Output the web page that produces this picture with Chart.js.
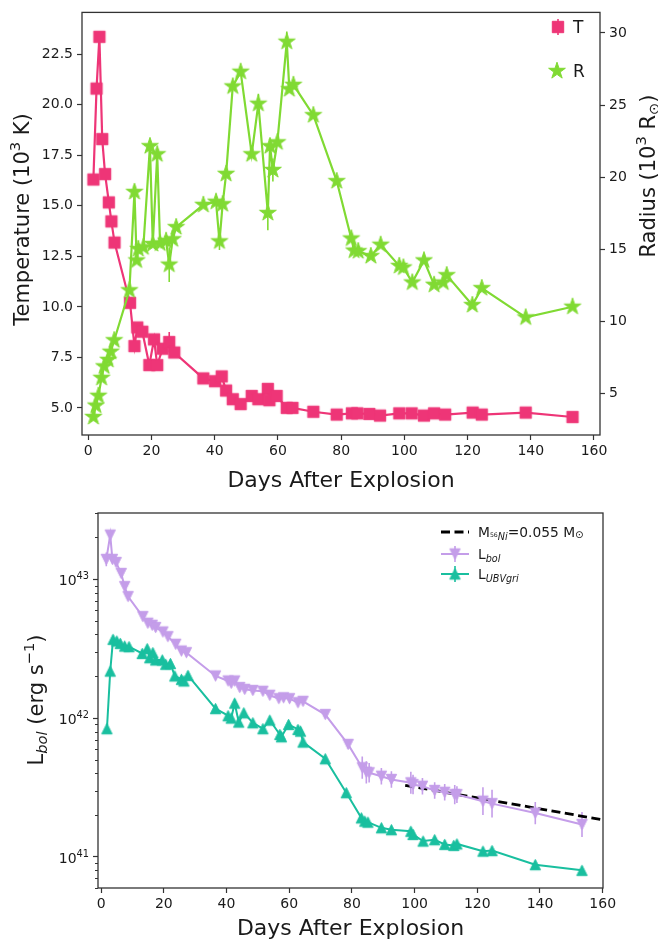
<!DOCTYPE html>
<html>
<head>
<meta charset="utf-8">
<script src="https://cdn.jsdelivr.net/npm/chart.js@4.4.1/dist/chart.umd.min.js"></script>
<style>
html, body { margin: 0; padding: 0; background: #fff; }
#wrap { position: relative; width: 658px; height: 943px; }
#wrap canvas { position: absolute; left: 0; }
#tempRadius { top: 0; z-index: 2; }
#luminosity { top: 480px; z-index: 1; }
</style>
</head>
<body>
<div id="wrap">
  <canvas id="tempRadius" width="658" height="500"></canvas>
  <canvas id="luminosity" width="658" height="463"></canvas>
</div>
<script>
// ---- temperature / radius ----
const tempDays = [1.6, 2.6, 3.5, 4.4, 5.3, 6.5, 7.3, 8.3, 13.2, 14.6, 15.5, 17.1, 19.3, 20.8, 21.8, 23.5, 25.6, 27.2,
  36.4, 40.1, 42.2, 43.6, 45.7, 48.2, 51.7, 53.8, 56.8, 57.3, 59.6, 62.8, 64.6,
  71.2, 78.6, 83.4, 85.1, 88.9, 92.3, 98.4, 102.3, 106.2, 109.4, 112.9, 121.6, 124.5, 138.4, 153.2];
const temperature = [16.3, 20.8, 23.36, 18.3, 16.57, 15.17, 14.23, 13.18, 10.2, 8.06, 8.98, 8.77, 7.12, 8.39, 7.12, 7.93, 8.26, 7.74,
  6.46, 6.32, 6.56, 5.86, 5.43, 5.19, 5.59, 5.43, 5.94, 5.38, 5.59, 5.0, 5.0,
  4.81, 4.67, 4.73, 4.73, 4.70, 4.62, 4.73, 4.73, 4.62, 4.73, 4.67, 4.77, 4.67, 4.77, 4.55];
const tempErr = [0, 0, 0, 0, 0, 0, 0, 0, 0, 0, 0, 0, 0, 0, 0, 0, 0.5, 0,
  0, 0, 0, 0, 0, 0, 0, 0, 0, 0, 0, 0, 0,
  0, 0, 0, 0, 0, 0, 0, 0, 0, 0, 0, 0, 0, 0, 0];

const radiusDays = [1.6, 2.4, 3.2, 4.2, 5.0, 6.3, 7.1, 8.2, 13.0, 14.6, 15.3, 15.8, 17.4, 19.5, 20.4, 21.8, 22.7, 24.6, 25.6, 26.7, 27.8,
  36.4, 40.4, 41.5, 42.5, 43.6, 45.7, 48.2, 51.7, 53.8, 56.8, 57.5, 58.4, 59.8, 62.8, 63.6, 64.9,
  71.2, 78.6, 83.2, 84.1, 85.4, 89.4, 92.5, 98.4, 99.7, 102.5, 106.2, 109.4, 112.3, 113.4, 121.5, 124.5, 138.4, 153.2];
const radius = [3.38, 4.17, 4.85, 6.09, 6.89, 7.34, 7.9, 8.7, 12.16, 18.98, 14.23, 15.03, 15.14, 22.15, 15.37, 21.59, 15.41, 15.59, 13.94, 15.70, 16.54,
  18.08, 18.3, 15.55, 18.13, 20.23, 26.29, 27.31, 21.59, 25.09, 17.52, 22.15, 20.5, 22.42, 29.39, 26.1, 26.4,
  24.3, 19.73, 15.75, 14.91, 14.87, 14.53, 15.32, 13.85, 13.74, 12.70, 14.23, 12.54, 12.70, 13.21, 11.14, 12.31, 10.28, 11.02];
const radiusErr = [0, 0, 0, 0, 0, 0, 0, 0, 0, 0.5, 0, 0, 0, 0, 0, 0, 0, 0, 1.2, 0, 0,
  0, 0, 0.6, 0, 0, 0, 0, 0, 0.7, 1.2, 0, 0.8, 0, 0.7, 0, 0,
  0, 0, 0, 0, 0, 0, 0, 0, 0, 0, 0, 0, 0, 0, 0, 0, 0, 0];

const dayTicks = [0, 20, 40, 60, 80, 100, 120, 140, 160];
const tempTicks = [5.0, 7.5, 10.0, 12.5, 15.0, 17.5, 20.0, 22.5];
const radiusTicks = [5, 10, 15, 20, 25, 30];

// ---- bolometric light curve ----
const lbolDays = [1.65, 2.9, 3.6, 4.8, 6.4, 7.5, 8.6, 13.3, 14.9, 16.3, 17.4, 19.7, 21.3, 23.8, 25.6, 27.2,
  36.5, 40.5, 41.5, 42.6, 44.2, 45.8, 48.4, 51.6, 53.8, 56.7, 58.2, 60.1, 62.8, 64.4, 71.5,
  78.8, 83.3, 84.6, 85.5, 89.4, 92.6, 98.8, 99.5, 102.5, 106.4, 109.6, 112.8, 113.5, 121.8, 124.7, 138.5, 153.4];
const lbol = [1.39e43, 2.08e43, 1.39e43, 1.32e43, 1.10e43, 8.85e42, 7.50e42, 5.38e42, 4.82e42, 4.66e42, 4.49e42, 4.17e42, 3.86e42, 3.40e42, 3.04e42, 2.96e42,
  2.01e42, 1.85e42, 1.78e42, 1.85e42, 1.66e42, 1.61e42, 1.58e42, 1.56e42, 1.46e42, 1.38e42, 1.40e42, 1.38e42, 1.29e42, 1.32e42, 1.06e42,
  6.46e41, 4.39e41, 4.07e41, 4.04e41, 3.81e41, 3.61e41, 3.42e41, 3.32e41, 3.23e41, 3.01e41, 2.92e41, 2.81e41, 2.81e41, 2.52e41, 2.42e41, 2.07e41, 1.71e41];
// errors in dex
const lbolErr = [0.05, 0.03, 0.02, 0.02, 0.02, 0.02, 0.02, 0.01, 0.01, 0.01, 0.01, 0.01, 0.01, 0.01, 0.01, 0.01,
  0.01, 0.01, 0.01, 0.01, 0.01, 0.01, 0.01, 0.01, 0.01, 0.01, 0.01, 0.01, 0.01, 0.01, 0.01,
  0.03, 0.08, 0.08, 0.07, 0.06, 0.06, 0.08, 0.07, 0.06, 0.06, 0.06, 0.07, 0.06, 0.10, 0.10, 0.08, 0.09];

const ubvDays = [1.85, 2.9, 3.8, 5.0, 6.1, 7.5, 8.9, 13.1, 14.7, 15.5, 16.5, 17.4, 19.5, 20.6, 22.1, 23.5, 25.6, 26.4, 27.7,
  36.5, 40.5, 41.5, 42.6, 43.9, 45.5, 48.4, 51.6, 53.8, 57.0, 57.5, 59.8, 62.8, 63.6, 64.4, 71.5,
  78.2, 83.0, 84.1, 85.1, 89.4, 92.6, 98.8, 99.5, 102.7, 106.4, 109.6, 112.5, 113.5, 121.8, 124.7, 138.5, 153.4];
const ubv = [8.38e41, 2.18e42, 3.69e42, 3.59e42, 3.45e42, 3.30e42, 3.27e42, 2.92e42, 3.16e42, 2.72e42, 2.96e42, 2.62e42, 2.62e42, 2.44e42, 2.47e42, 2.01e42, 1.90e42, 1.85e42, 2.03e42,
  1.17e42, 1.04e42, 1.00e42, 1.28e42, 9.35e41, 1.09e42, 9.25e41, 8.38e41, 9.66e41, 7.62e41, 7.33e41, 8.99e41, 8.28e41, 8.05e41, 6.71e41, 5.09e41,
  2.90e41, 1.91e41, 1.81e41, 1.78e41, 1.62e41, 1.57e41, 1.53e41, 1.45e41, 1.30e41, 1.33e41, 1.23e41, 1.21e41, 1.24e41, 1.10e41, 1.11e41, 8.79e40, 8.0e40];

// 56Co tail for M(56Ni) = 0.055 Msun
const niDays = [97, 160];
const niLum = [3.28e41, 1.85e41];

const lumTicks = [1e41, 1e42, 1e43];

const PINK = '#ee3577';
const GREEN = '#80da33';
const PURPLE = '#c49de9';
const TEAL = '#19bf9f';
const INK = '#1a1a1a';
const FONT = '"DejaVu Sans", sans-serif';

const pts = (xs, ys) => xs.map((x, i) => ({ x: x, y: ys[i] }));

function marker(kind, color, r) {
    const size = Math.ceil(r * 2 + 4);
    const c = document.createElement('canvas');
    c.width = size;
    c.height = size;
    const g = c.getContext('2d');
    g.translate(size / 2, size / 2);
    g.fillStyle = color;
    g.strokeStyle = color;
    g.lineWidth = 1;
    g.lineJoin = 'miter';
    g.beginPath();
    if (kind === 'star') {
        for (let i = 0; i < 10; i++) {
            const rr = i % 2 ? r * 0.382 : r;
            const a = -Math.PI / 2 + i * Math.PI / 5;
            g.lineTo(rr * Math.cos(a), rr * Math.sin(a));
        }
    } else if (kind === 'square') {
        g.rect(-r, -r, 2 * r, 2 * r);
    } else if (kind === 'up') {
        g.moveTo(0, -r); g.lineTo(r, r); g.lineTo(-r, r);
    } else {
        g.moveTo(0, r); g.lineTo(r, -r); g.lineTo(-r, -r);
    }
    g.closePath();
    g.fill();
    g.stroke();
    return c;
}

const squareImg = marker('square', PINK, 5.7);
const starImg = marker('star', GREEN, 8.8);
const downImg = marker('down', PURPLE, 5.2);
const upImg = marker('up', TEAL, 5.2);

// text with sub/superscripts: parts = [{t, s: scale, dy: shift in em, it: italic}]
function drawRich(ctx, parts, x, y, size, align, angle) {
    ctx.save();
    ctx.translate(x, y);
    if (angle) ctx.rotate(angle);
    ctx.fillStyle = INK;
    ctx.textAlign = 'left';
    ctx.textBaseline = 'alphabetic';
    const fontOf = p => (p.it ? 'italic ' : '') + (size * (p.s || 1)) + 'px ' + FONT;
    let total = 0;
    const widths = parts.map(p => { ctx.font = fontOf(p); const w = ctx.measureText(p.t).width; total += w; return w; });
    let cx = align === 'center' ? -total / 2 : align === 'right' ? -total : 0;
    parts.forEach((p, i) => {
        ctx.font = fontOf(p);
        ctx.fillText(p.t, cx, size * 0.36 + (p.dy || 0) * size);
        cx += widths[i];
    });
    ctx.restore();
}

const sup = t => ({ t: t, s: 0.7, dy: -0.42 });
const sub = (t, it) => ({ t: t, s: 0.7, dy: 0.22, it: !!it });

const frame = {
    id: 'frame',
    afterDraw(chart) {
        const a = chart.chartArea, ctx = chart.ctx;
        ctx.save();
        ctx.strokeStyle = '#333';
        ctx.lineWidth = 1.3;
        ctx.strokeRect(a.left, a.top, a.right - a.left, a.bottom - a.top);
        ctx.restore();
    }
};

const errorBars = {
    id: 'errorBars',
    beforeDatasetsDraw(chart) {
        const ctx = chart.ctx, a = chart.chartArea;
        chart.data.datasets.forEach(ds => {
            if (!ds.errors) return;
            const xs = chart.scales.x, ys = chart.scales[ds.yAxisID];
            ctx.save();
            ctx.beginPath();
            ctx.rect(a.left, a.top, a.right - a.left, a.bottom - a.top);
            ctx.clip();
            ctx.beginPath();
            ds.data.forEach((p, j) => {
                const e = ds.errors[j];
                if (!e) return;
                const lo = ds.dex ? p.y / Math.pow(10, e) : p.y - e;
                const hi = ds.dex ? p.y * Math.pow(10, e) : p.y + e;
                const px = xs.getPixelForValue(p.x);
                ctx.moveTo(px, ys.getPixelForValue(lo));
                ctx.lineTo(px, ys.getPixelForValue(hi));
            });
            ctx.strokeStyle = ds.borderColor;
            ctx.lineWidth = 1.6;
            ctx.stroke();
            ctx.restore();
        });
    }
};

const tickFont = { family: FONT, size: 14 };
const axisGrid = { display: true, drawOnChartArea: false, drawTicks: true, tickLength: 5, tickColor: '#333', tickWidth: 1.2 };
const fixTicks = list => scale => { scale.ticks = list.map(v => ({ value: v })); };

// ---------- top panel ----------
const topLabels = {
    id: 'topLabels',
    afterDraw(chart) {
        const ctx = chart.ctx;
        drawRich(ctx, [{ t: 'Days After Explosion' }], 341, 479, 22, 'center');
        drawRich(ctx, [{ t: 'Temperature (10' }, sup('3'), { t: ' K)' }], 21, 219.5, 21, 'center', -Math.PI / 2);
        drawRich(ctx, [{ t: 'Radius (10' }, sup('3'), { t: ' R' }, sub('\u2299'), { t: ')' }], 647, 176, 21, 'center', -Math.PI / 2);

        // legend
        ctx.save();
        ctx.strokeStyle = PINK;
        ctx.lineWidth = 1.6;
        ctx.beginPath();
        ctx.moveTo(558, 19); ctx.lineTo(558, 35);
        ctx.stroke();
        ctx.drawImage(squareImg, 558 - squareImg.width / 2, 27 - squareImg.height / 2);
        ctx.drawImage(starImg, 557 - starImg.width / 2, 71 - starImg.height / 2);
        ctx.restore();
        drawRich(ctx, [{ t: 'T' }], 573, 27, 17, 'left');
        drawRich(ctx, [{ t: 'R' }], 573, 71, 17, 'left');
    }
};

new Chart(document.getElementById('tempRadius'), {
    type: 'scatter',
    data: {
        datasets: [
            {
                label: 'T',
                data: pts(tempDays, temperature),
                errors: tempErr,
                yAxisID: 'yT',
                showLine: true,
                borderColor: PINK,
                borderWidth: 2.2,
                pointStyle: squareImg,
                order: 1
            },
            {
                label: 'R',
                data: pts(radiusDays, radius),
                errors: radiusErr,
                yAxisID: 'yR',
                showLine: true,
                borderColor: GREEN,
                borderWidth: 2.2,
                pointStyle: starImg,
                order: 0
            }
        ]
    },
    options: {
        responsive: false,
        animation: false,
        events: [],
        layout: { padding: { top: 4, left: 0, right: 0, bottom: 0 } },
        plugins: { legend: { display: false }, tooltip: { enabled: false } },
        scales: {
            x: {
                type: 'linear', min: -2, max: 161.9,
                afterBuildTicks: fixTicks(dayTicks),
                afterFit: s => { s.height = 65; },
                ticks: { font: tickFont, color: INK, padding: 3, maxRotation: 0, callback: v => String(v) },
                grid: axisGrid, border: { display: false }
            },
            yT: {
                type: 'linear', position: 'left', min: 3.66, max: 24.57,
                afterBuildTicks: fixTicks(tempTicks),
                afterFit: s => { s.width = 82; },
                ticks: { font: tickFont, color: INK, padding: 4, callback: v => v.toFixed(1) },
                grid: axisGrid, border: { display: false }
            },
            yR: {
                type: 'linear', position: 'right', min: 2.13, max: 31.42,
                afterBuildTicks: fixTicks(radiusTicks),
                afterFit: s => { s.width = 58; },
                ticks: { font: tickFont, color: INK, padding: 4, callback: v => String(v) },
                grid: axisGrid, border: { display: false }
            }
        }
    },
    plugins: [errorBars, frame, topLabels]
});

// ---------- bottom panel ----------
const bottomLabels = {
    id: 'bottomLabels',
    afterDraw(chart) {
        const ctx = chart.ctx, a = chart.chartArea, ys = chart.scales.y;

        // log tick labels and minor ticks
        lumTicks.forEach(v => {
            const py = ys.getPixelForValue(v);
            drawRich(ctx, [{ t: '10' }, sup(String(Math.round(Math.log10(v))))], a.left - 9, py + 1, 14, 'right');
        });
        ctx.save();
        ctx.strokeStyle = '#333';
        ctx.lineWidth = 1;
        ctx.beginPath();
        for (let d = 40; d <= 43; d++) {
            for (let k = 2; k <= 9; k++) {
                const v = k * Math.pow(10, d);
                if (v < ys.min || v > ys.max) continue;
                const py = Math.round(ys.getPixelForValue(v)) + 0.5;
                ctx.moveTo(a.left - 3, py);
                ctx.lineTo(a.left, py);
            }
        }
        ctx.stroke();
        ctx.restore();

        drawRich(ctx, [{ t: 'Days After Explosion' }], 350.5, 447, 22, 'center');
        drawRich(ctx, [{ t: 'L' }, sub('bol', true), { t: ' (erg s' }, sup('\u22121'), { t: ')' }], 35, 220, 21, 'center', -Math.PI / 2);

        // legend
        const hx0 = 441, hx1 = 469, hm = 455;
        ctx.save();
        ctx.lineWidth = 2.8;
        ctx.strokeStyle = '#000';
        ctx.setLineDash([9, 4.5]);
        ctx.beginPath();
        ctx.moveTo(hx0, 52); ctx.lineTo(hx1, 52);
        ctx.stroke();
        ctx.setLineDash([]);
        [[74, PURPLE, downImg], [94, TEAL, upImg]].forEach(row => {
            ctx.strokeStyle = row[1];
            ctx.lineWidth = 2;
            ctx.beginPath();
            ctx.moveTo(hx0, row[0]); ctx.lineTo(hx1, row[0]);
            ctx.stroke();
            ctx.lineWidth = 1.6;
            ctx.beginPath();
            ctx.moveTo(hm, row[0] - 8); ctx.lineTo(hm, row[0] + 8);
            ctx.stroke();
            ctx.drawImage(row[2], hm - row[2].width / 2, row[0] - row[2].height / 2);
        });
        ctx.restore();
        drawRich(ctx, [{ t: 'M' }, { t: '56', s: 0.45, dy: 0.02 }, sub('Ni', true), { t: '=0.055 M' }, { t: '\u2299', s: 0.75, dy: 0.1 }], 478, 52, 13.8, 'left');
        drawRich(ctx, [{ t: 'L' }, sub('bol', true)], 478, 74, 13.8, 'left');
        drawRich(ctx, [{ t: 'L' }, sub('UBVgri', true)], 478, 94, 13.8, 'left');
    }
};

new Chart(document.getElementById('luminosity'), {
    type: 'scatter',
    data: {
        datasets: [
            {
                label: 'Ni',
                data: pts(niDays, niLum),
                yAxisID: 'y',
                showLine: true,
                borderColor: '#000',
                borderWidth: 2.8,
                borderDash: [9, 4.5],
                pointRadius: 0,
                order: 2
            },
            {
                label: 'Lbol',
                data: pts(lbolDays, lbol),
                errors: lbolErr,
                dex: true,
                yAxisID: 'y',
                showLine: true,
                borderColor: PURPLE,
                borderWidth: 2,
                pointStyle: downImg,
                order: 1
            },
            {
                label: 'LUBVgri',
                data: pts(ubvDays, ubv),
                yAxisID: 'y',
                showLine: true,
                borderColor: TEAL,
                borderWidth: 2,
                pointStyle: upImg,
                order: 0
            }
        ]
    },
    options: {
        responsive: false,
        animation: false,
        events: [],
        layout: { padding: { top: 33, left: 0, right: 55, bottom: 0 } },
        plugins: { legend: { display: false }, tooltip: { enabled: false } },
        scales: {
            x: {
                type: 'linear', min: -1, max: 160.1,
                afterBuildTicks: fixTicks(dayTicks),
                afterFit: s => { s.height = 55; },
                ticks: { font: tickFont, color: INK, padding: 3, maxRotation: 0, callback: v => String(v) },
                grid: axisGrid, border: { display: false }
            },
            y: {
                type: 'logarithmic', position: 'left', min: 5.97e40, max: 3.0e43,
                afterBuildTicks: fixTicks(lumTicks),
                afterFit: s => { s.width = 98; },
                ticks: { font: tickFont, color: INK, callback: () => '' },
                grid: axisGrid, border: { display: false }
            }
        }
    },
    plugins: [errorBars, frame, bottomLabels]
});
</script>
</body>
</html>
